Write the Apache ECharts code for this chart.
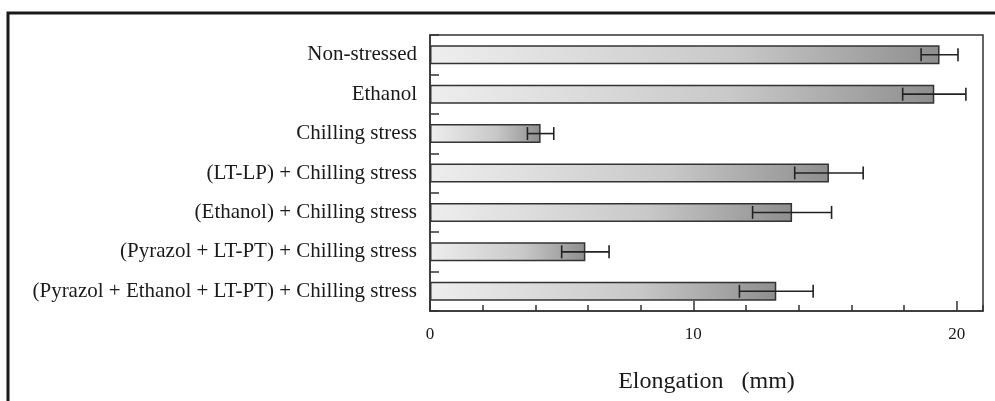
<!DOCTYPE html>
<html>
<head>
<meta charset="utf-8">
<script src="https://cdn.jsdelivr.net/npm/echarts@6/dist/echarts.min.js"></script>
<style>
html,body{margin:0;padding:0;background:#fff;}
#c{width:995px;height:401px;}
</style>
</head>
<body>
<div id="c"></div>
<script>
var categories = [
  "Non-stressed",
  "Ethanol",
  "Chilling stress",
  "(LT-LP) + Chilling stress",
  "(Ethanol) + Chilling stress",
  "(Pyrazol + LT-PT) + Chilling stress",
  "(Pyrazol + Ethanol + LT-PT) + Chilling stress"
];
var elongation = [19.35, 19.15, 4.2, 15.15, 13.75, 5.9, 13.15];
var errors = [0.7, 1.2, 0.5, 1.3, 1.5, 0.9, 1.4];
var xTickLabels = [0, 10, 20];

var chart = echarts.init(document.getElementById('c'), null, {renderer: 'canvas'});
var serif = '"Liberation Serif", "DejaVu Serif", serif';

var errData = categories.map(function (c, i) {
  return [i, elongation[i] - errors[i], elongation[i] + errors[i]];
});

chart.setOption({
  animation: false,
  backgroundColor: '#ffffff',
  grid: {
    left: 430, right: 12, top: 35, bottom: 90,
    show: true, borderColor: '#333', borderWidth: 1.5, backgroundColor: 'transparent'
  },
  graphic: [
    { type: 'polyline', shape: { points: [[8, 401], [8, 13], [995, 13]] },
      style: { stroke: '#1a1a1a', lineWidth: 3, fill: null } }
  ],
  xAxis: [
    {
      type: 'value', min: 0, max: 21, interval: 10, position: 'bottom',
      axisLine: { show: true, lineStyle: { color: '#333', width: 1.5 } },
      axisTick: { show: true, inside: true, length: 10, lineStyle: { color: '#333', width: 1.5 } },
      axisLabel: {
        show: true, margin: 15, fontFamily: serif, fontSize: 17, color: '#1a1a1a',
        showMaxLabel: false,
        formatter: function (v) { return xTickLabels.indexOf(v) >= 0 ? String(v) : ''; }
      },
      splitLine: { show: false },
      name: 'Elongation   (mm)', nameLocation: 'middle', nameGap: 59,
      nameTextStyle: { fontFamily: serif, fontSize: 24, color: '#1a1a1a' }
    },
    {
      type: 'value', min: 0, max: 21, interval: 2, position: 'bottom',
      axisLine: { show: false },
      axisTick: { show: true, inside: true, length: 6, lineStyle: { color: '#333', width: 1.5 } },
      axisLabel: { show: false },
      splitLine: { show: false }
    }
  ],
  yAxis: {
    type: 'category', data: categories, inverse: true,
    axisLine: { show: true, lineStyle: { color: '#333', width: 1.5 } },
    axisTick: { show: true, inside: true, length: 9, lineStyle: { color: '#333', width: 1.5 } },
    axisLabel: { margin: 13, fontFamily: serif, fontSize: 21, color: '#1a1a1a' }
  },
  series: [
    {
      type: 'bar', xAxisIndex: 0, data: elongation, barWidth: 19,
      itemStyle: {
        borderColor: '#333', borderWidth: 1.5,
        color: new echarts.graphic.LinearGradient(0, 0, 1, 0, [
          { offset: 0, color: '#eeeeee' },
          { offset: 0.6, color: '#c8c8c8' },
          { offset: 1, color: '#8e8e8e' }
        ])
      },
      z: 2
    },
    {
      type: 'custom', xAxisIndex: 0, data: errData, z: 5,
      renderItem: function (params, api) {
        var y = api.value(0);
        var a = api.coord([api.value(1), y]);
        var b = api.coord([api.value(2), y]);
        var h = 6.5;
        var st = { stroke: '#222', lineWidth: 1.6 };
        return {
          type: 'group',
          children: [
            { type: 'line', shape: { x1: a[0], y1: a[1], x2: b[0], y2: b[1] }, style: st },
            { type: 'line', shape: { x1: a[0], y1: a[1] - h, x2: a[0], y2: a[1] + h }, style: st },
            { type: 'line', shape: { x1: b[0], y1: b[1] - h, x2: b[0], y2: b[1] + h }, style: st }
          ]
        };
      }
    }
  ]
});
</script>
</body>
</html>
